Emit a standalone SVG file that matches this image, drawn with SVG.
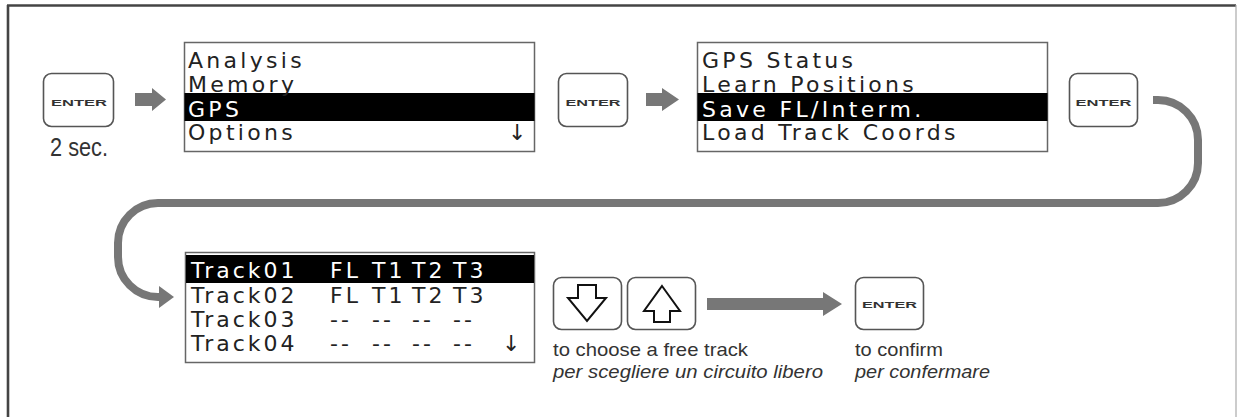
<svg xmlns="http://www.w3.org/2000/svg" width="1237" height="417" viewBox="0 0 1237 417">
<defs>
<style>
.key{fill:#fff;stroke:#555;stroke-width:1.6}
.kt{font-family:"Liberation Sans",Arial,sans-serif;font-weight:bold;font-size:9.5px;fill:#333;text-anchor:middle}
.box{fill:#fff;stroke:#666;stroke-width:1.5}
.hl{fill:#000}
.lcd{font-family:"DejaVu Sans",Verdana,sans-serif;font-size:22px;letter-spacing:3.3px;fill:#222}
.lcdw{fill:#fff}
.trk{letter-spacing:3px}
.dn{font-family:"DejaVu Sans",sans-serif;font-size:22px;fill:#222}
.cap{font-family:"Liberation Sans",Arial,sans-serif;font-size:19px;fill:#333}
.sec{font-size:25px}
.it{font-style:italic}
.garrow{fill:#777}
.conn{fill:none;stroke:#777;stroke-width:8}
.arr{fill:#fff;stroke:#111;stroke-width:2;stroke-linejoin:miter}
</style>
</defs>
<rect width="1237" height="417" fill="#fff"/>
<g id="frame">
<line x1="8" y1="5" x2="8" y2="417" stroke="#444" stroke-width="2.6"/>
<line x1="7" y1="5.5" x2="1236" y2="5.5" stroke="#444" stroke-width="2.4"/>
<line x1="1236" y1="5" x2="1236" y2="417" stroke="#aaa" stroke-width="1.2"/>
</g>

<g id="key-enter-1">
<rect class="key" x="43.5" y="73.5" width="70" height="53" rx="8"/>
<text class="kt" x="79" y="105.5" textLength="56" lengthAdjust="spacingAndGlyphs">ENTER</text>
<text class="cap sec" x="79" y="156" text-anchor="middle" textLength="58" lengthAdjust="spacingAndGlyphs">2 sec.</text>
</g>

<g id="menu-main">
<rect class="box" x="184.5" y="42.5" width="350" height="109"/>
<rect class="hl" x="184.5" y="93" width="350" height="28"/>
<text class="lcd" x="188" y="68">Analysis</text>
<text class="lcd" x="188" y="92">Memory</text>
<text class="lcd lcdw" x="188" y="117">GPS</text>
<text class="lcd" x="188" y="140">Options</text>
<text class="dn" x="508" y="140">↓</text>
</g>

<g id="key-enter-2">
<rect class="key" x="558.5" y="73.5" width="69" height="53" rx="8"/>
<text class="kt" x="593" y="105.5" textLength="55" lengthAdjust="spacingAndGlyphs">ENTER</text>
</g>

<g id="menu-gps">
<rect class="box" x="697.5" y="42.5" width="350" height="109"/>
<rect class="hl" x="697.5" y="93" width="350" height="28"/>
<text class="lcd" x="702" y="68">GPS Status</text>
<text class="lcd" x="702" y="92">Learn Positions</text>
<text class="lcd lcdw" x="702" y="117">Save FL/Interm.</text>
<text class="lcd" x="702" y="140">Load Track Coords</text>
</g>

<g id="key-enter-3">
<rect class="key" x="1069.5" y="73.5" width="68" height="53" rx="8"/>
<text class="kt" x="1103.5" y="105.5" textLength="56" lengthAdjust="spacingAndGlyphs">ENTER</text>
</g>

<g id="track-list">
<rect class="box" x="185.5" y="252.5" width="349" height="110"/>
<rect class="hl" x="186" y="255" width="348" height="28"/>
<g class="lcd lcdw trk">
<text x="191" y="278">Track01</text><text x="330" y="278">FL</text><text x="372" y="278">T1</text><text x="412" y="278">T2</text><text x="453" y="278">T3</text>
</g>
<g class="lcd trk">
<text x="191" y="303">Track02</text><text x="330" y="303">FL</text><text x="372" y="303">T1</text><text x="412" y="303">T2</text><text x="453" y="303">T3</text>
<text x="191" y="327">Track03</text><text x="330" y="327">--</text><text x="372" y="327">--</text><text x="412" y="327">--</text><text x="453" y="327">--</text>
<text x="191" y="351">Track04</text><text x="330" y="351">--</text><text x="372" y="351">--</text><text x="412" y="351">--</text><text x="453" y="351">--</text>
</g>
<text class="dn" x="502" y="351">↓</text>
</g>

<g id="key-down">
<rect class="key" x="553.5" y="277.5" width="68" height="52" rx="8"/>
<polygon class="arr" points="578,285 596,285 596,298 606,298 587,321 568,298 578,298"/>
</g>
<g id="key-up">
<rect class="key" x="627.5" y="277.5" width="68" height="52" rx="8"/>
<polygon class="arr" points="662,286 680,311 670,311 670,322 654,322 654,311 644,311"/>
</g>

<g id="key-enter-4">
<rect class="key" x="855.5" y="277.5" width="68" height="52" rx="8"/>
<text class="kt" x="889.5" y="307.5" textLength="55" lengthAdjust="spacingAndGlyphs">ENTER</text>
</g>

<g id="captions">
<text class="cap" x="553" y="356" textLength="195" lengthAdjust="spacingAndGlyphs">to choose a free track</text>
<text class="cap it" x="553" y="378" textLength="270" lengthAdjust="spacingAndGlyphs">per scegliere un circuito libero</text>
<text class="cap" x="855" y="356" textLength="88" lengthAdjust="spacingAndGlyphs">to confirm</text>
<text class="cap it" x="855" y="378" textLength="135" lengthAdjust="spacingAndGlyphs">per confermare</text>
</g>

<g id="connectors">
<polygon class="garrow" points="135,93 152,93 152,88 166,99.5 152,111 152,106 135,106"/>
<polygon class="garrow" points="646,93 662,93 662,88 679,99.5 662,111 662,106 646,106"/>
<path class="conn" d="M1153,100 H1158 A40,40 0 0 1 1198,140 V163 A40,40 0 0 1 1158,203 H158 A40,40 0 0 0 118,243 V257 A40,40 0 0 0 158,297 H162"/>
<polygon class="garrow" points="159,286 174,297 159,308"/>
<polygon class="garrow" points="707,298 823,298 823,292 842,304 823,316 823,310 707,310"/>
</g>
</svg>
